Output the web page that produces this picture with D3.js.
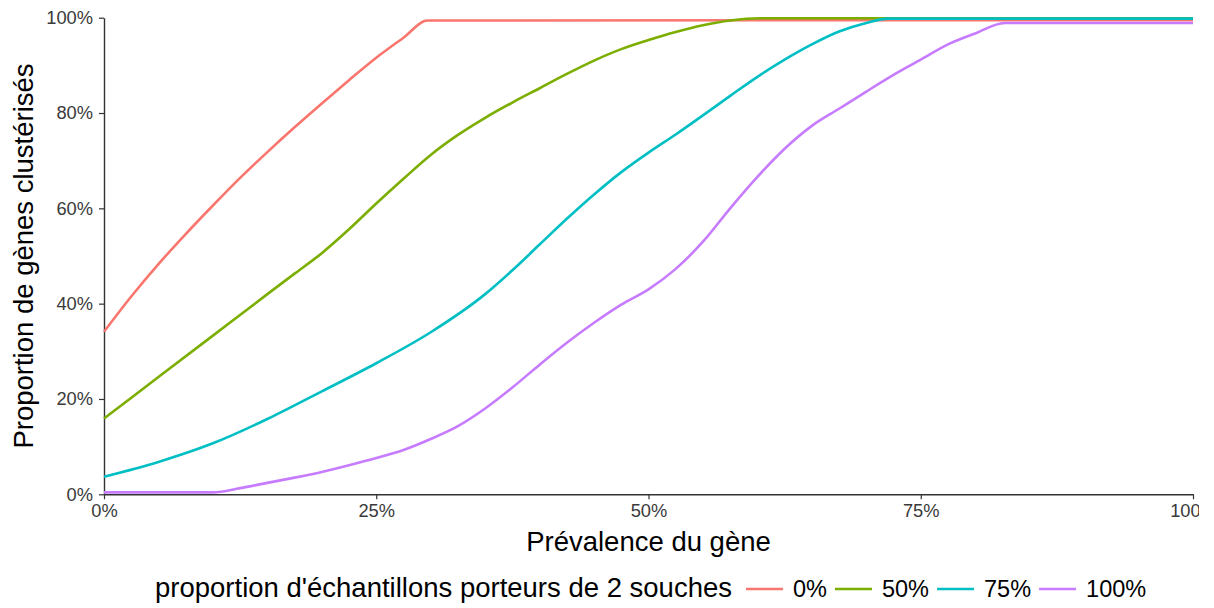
<!DOCTYPE html>
<html>
<head>
<meta charset="utf-8">
<script src="https://cdn.jsdelivr.net/npm/d3@7"></script>
<style>
  body { margin: 0; background: #fff; }
  text { font-family: "Liberation Sans", Arial, sans-serif; }
</style>
</head>
<body>
<div id="chart"></div>
<script>
// Series (prevalence %, proportion %)
const seriesNames = ['0%', '50%', '75%', '100%'];
const seriesColors = ['#F8766D', '#7CAE00', '#00BFC4', '#C77CFF'];

const prev0 = [0, 2.5, 5, 7.5, 10, 12.5, 15, 17.5, 20, 22.5, 25, 27.5, 29.7, 100];
const vals0 = [34.1, 41.5, 48.3, 54.6, 60.6, 66.4, 71.8, 77.0, 82.0, 86.9, 91.6, 95.8, 99.4, 99.5];

const prev50 = [0, 5, 10, 15, 17.5, 20, 22.5, 25, 27.5, 30, 32.5, 35, 37.5, 40, 42.5, 45, 47.5, 50, 52.5, 55, 57.5, 60.2, 100];
const vals50 = [15.9, 24.6, 33.3, 42, 46.3, 50.6, 55.6, 61, 66.2, 71.2, 75.4, 79.0, 82.2, 85.2, 88.2, 91.0, 93.4, 95.3, 97.0, 98.4, 99.4, 99.9, 99.9];

const prev75 = [0, 5, 10, 15, 20, 25, 30, 35, 37.5, 40, 42.5, 45, 47.5, 50, 52.5, 55, 57.5, 60, 62.5, 65, 67.5, 70, 72, 100];
const vals75 = [3.7, 6.8, 10.7, 15.8, 21.6, 27.5, 34, 42, 47, 52.4, 57.8, 62.9, 67.6, 71.7, 75.5, 79.5, 83.6, 87.6, 91.2, 94.4, 97.1, 98.9, 99.8, 99.8];

const prev100 = [0, 5, 10, 12.5, 15, 17.5, 20, 22.5, 25, 27.5, 30, 32.5, 35, 37.5, 40, 42.5, 45, 47.5, 50, 52.5, 55, 57.5, 60, 62.5, 65, 67.5, 70, 72.5, 75, 77.5, 80, 82.7, 100];
const vals100 = [0.4, 0.4, 0.4, 1.3, 2.4, 3.5, 4.7, 6.1, 7.6, 9.3, 11.6, 14.3, 18, 22.4, 27.2, 31.8, 36.0, 39.8, 43.0, 47.3, 53, 60, 66.6, 72.5, 77.3, 80.9, 84.5, 88, 91.2, 94.4, 96.7, 98.9, 98.9];

const seriesPrev = [prev0, prev50, prev75, prev100];
const seriesVals = [vals0, vals50, vals75, vals100];

const xTicks = [0, 25, 50, 75, 100];
const yTicks = [0, 20, 40, 60, 80, 100];

const xTitle = 'Prévalence du gène';
const yTitle = 'Proportion de gènes clustérisés';
const legendTitle = "proportion d'échantillons porteurs de 2 souches";

const width = 1199, height = 608;
const margin = { top: 17.7, right: 6, bottom: 113.7, left: 104 };

const svg = d3.select('#chart')
    .append('svg')
    .attr('width', width)
    .attr('height', height);

const x = d3.scaleLinear()
    .domain([0, 100])
    .range([margin.left, 1193]);

const y = d3.scaleLinear()
    .domain([0, 100])
    .range([height - margin.bottom, margin.top]);

const pct = d => d + '%';

// Axes
const xAxis = svg.append('g')
    .attr('transform', `translate(0,${y(0)})`)
    .call(d3.axisBottom(x).tickValues(xTicks).tickFormat(pct).tickSize(5).tickPadding(5).tickSizeOuter(0));

const yAxis = svg.append('g')
    .attr('transform', `translate(${x(0)},0)`)
    .call(d3.axisLeft(y).tickValues(yTicks).tickFormat(pct).tickSize(5).tickPadding(6).tickSizeOuter(0));

[xAxis, yAxis].forEach(g => {
    g.select('.domain').attr('stroke', '#333').attr('stroke-width', 1.4);
    g.selectAll('.tick line').attr('stroke', '#333').attr('stroke-width', 1.2);
    g.selectAll('.tick text')
        .attr('fill', '#3a3a3a')
        .style('font-size', '18.3px')
        .style('font-family', '"Liberation Sans", Arial, sans-serif');
});

// Lines
const line = d3.line()
    .x(d => x(d[0]))
    .y(d => y(d[1]))
    .curve(d3.curveMonotoneX);

svg.append('g')
    .selectAll('path')
    .data(seriesNames.map((name, i) => ({
        name: name,
        color: seriesColors[i],
        points: seriesPrev[i].map((p, j) => [p, seriesVals[i][j]])
    })))
    .enter()
    .append('path')
    .attr('d', d => line(d.points))
    .attr('fill', 'none')
    .attr('stroke', d => d.color)
    .attr('stroke-width', 2.6)
    .attr('stroke-linejoin', 'round');

// Axis titles
svg.append('text')
    .attr('x', (x(0) + x(100)) / 2)
    .attr('y', 551)
    .attr('text-anchor', 'middle')
    .style('font-size', '27.5px')
    .attr('fill', '#000')
    .text(xTitle);

svg.append('text')
    .attr('transform', `translate(33,${(y(0) + y(100)) / 2}) rotate(-90)`)
    .attr('text-anchor', 'middle')
    .style('font-size', '27.5px')
    .attr('fill', '#000')
    .text(yTitle);

// Legend
const legend = svg.append('g').attr('transform', 'translate(0,597)');

const titleNode = legend.append('text')
    .attr('x', 155)
    .attr('y', 0)
    .style('font-size', '27.5px')
    .attr('fill', '#000')
    .text(legendTitle);

let cursor = 155 + titleNode.node().getComputedTextLength() + 14;
seriesNames.forEach((name, i) => {
    legend.append('line')
        .attr('x1', cursor)
        .attr('x2', cursor + 37)
        .attr('y1', -8)
        .attr('y2', -8)
        .attr('stroke', seriesColors[i])
        .attr('stroke-width', 2.6);
    const label = legend.append('text')
        .attr('x', cursor + 47)
        .attr('y', 0)
        .style('font-size', '23.5px')
        .attr('fill', '#000')
        .text(name);
    cursor += 47 + label.node().getComputedTextLength() + 8;
});
</script>
</body>
</html>
